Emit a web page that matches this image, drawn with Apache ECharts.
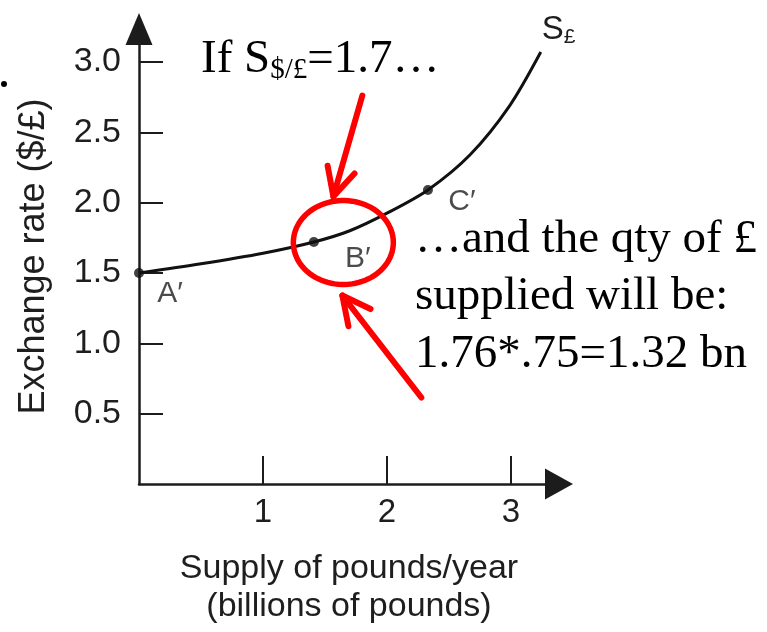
<!DOCTYPE html>
<html>
<head>
<meta charset="utf-8">
<script src="https://cdn.jsdelivr.net/npm/echarts@6/dist/echarts.min.js"></script>
<style>
  html, body { margin: 0; padding: 0; background: #fff; }
  #chart { width: 767px; height: 632px; }
</style>
</head>
<body>
<div id="chart"></div>
<script>
// Supply of pounds: quantity supplied (billions of £ per year) against the $/£ exchange rate
const curveQty  = [0, 0.5, 1.0, 1.41, 1.7, 2.0, 2.33, 2.67, 2.99, 3.24];
const curveRate = [1.5, 1.565, 1.64, 1.72, 1.80, 1.925, 2.09, 2.34, 2.69, 3.07];

// Labelled points on the curve
const pointNames = ['A′', 'B′', 'C′'];
const pointQty   = [0, 1.41, 2.33];
const pointRate  = [1.5, 1.72, 2.09];

// Axis ticks
const xTicks = [1, 2, 3];
const yTicks = [0.5, 1.0, 1.5, 2.0, 2.5, 3.0];

// Text
const xAxisName = 'Supply of pounds/year\n(billions of pounds)';
const yAxisName = 'Exchange rate ($/£)';
const curveLabel = ['S', '£'];
const rateNote = ['If S', '$/£', '=1.7…'];
const qtyNote = ['…and the qty of £', 'supplied will be:', '1.76*.75=1.32 bn'];

// ---- styling ----
const SANS = '"Liberation Sans", Arial, Helvetica, sans-serif';
const SERIF = '"Liberation Serif", "Times New Roman", Times, serif';
const INK = '#1c1c1c';
const LABEL_INK = '#1e1e1e';
const RED = '#ff0000';
const pointLabelOffsets = [[31, 21], [44, 17], [34, 12]];

const chart = echarts.init(document.getElementById('chart'), null, { renderer: 'canvas' });

const axisCommon = {
  type: 'value',
  min: 0,
  nameLocation: 'middle',
  nameTextStyle: { fontFamily: SANS, fontSize: 34, color: LABEL_INK },
  axisLine: { show: true, onZero: false, symbol: ['none', 'triangle'], lineStyle: { color: INK, width: 2.5 } },
  splitLine: { show: false }
};

chart.setOption({
  animation: false,
  backgroundColor: '#fff',
  grid: { left: 139, right: 208, top: 29, bottom: 148 },
  xAxis: Object.assign({}, axisCommon, {
    max: 3.387,
    interval: 1,
    name: xAxisName,
    nameGap: 66,
    nameTextStyle: { fontFamily: SANS, fontSize: 34, color: LABEL_INK, lineHeight: 38 },
    axisLine: Object.assign({}, axisCommon.axisLine, { symbolSize: [31, 28] }),
    axisTick: { show: true, inside: true, length: 28, customValues: xTicks, lineStyle: { color: INK, width: 2 } },
    axisLabel: { customValues: xTicks, margin: 12, fontFamily: SANS, fontSize: 33, color: LABEL_INK }
  }),
  yAxis: Object.assign({}, axisCommon, {
    max: 3.234,
    interval: 0.5,
    name: yAxisName,
    nameGap: 87,
    nameTextStyle: { fontFamily: SANS, fontSize: 36, color: LABEL_INK },
    axisLine: Object.assign({}, axisCommon.axisLine, { symbolSize: [27, 32] }),
    axisTick: { show: true, inside: true, length: 24, customValues: yTicks, lineStyle: { color: INK, width: 2 } },
    axisLabel: {
      customValues: yTicks, margin: 18, fontFamily: SANS, fontSize: 34, color: LABEL_INK,
      formatter: v => Number(v).toFixed(1)
    }
  }),
  series: [
    {
      type: 'line',
      data: curveQty.map((q, i) => [q, curveRate[i]]),
      smooth: 0.3,
      showSymbol: false,
      lineStyle: { color: '#111', width: 3 },
      z: 3
    },
    {
      type: 'scatter',
      data: pointQty.map((q, i) => ({
        value: [q, pointRate[i]],
        name: pointNames[i],
        label: { offset: pointLabelOffsets[i] }
      })),
      symbol: 'circle',
      symbolSize: 10,
      itemStyle: { color: '#111' },
      label: {
        show: true,
        position: 'inside',
        formatter: p => p.name,
        fontFamily: SANS,
        fontSize: 30,
        color: LABEL_INK
      },
      z: 4
    }
  ]
});

// Annotations placed from the pixel positions of the data they point at
const bPx = chart.convertToPixel({ seriesIndex: 1 }, [pointQty[1], pointRate[1]]);
const endPx = chart.convertToPixel({ seriesIndex: 0 }, [curveQty[curveQty.length - 1], curveRate[curveRate.length - 1]]);

function ringPoints(cx, cy, rx, ry, n) {
  const pts = [];
  for (let k = 0; k < n; k++) {
    const t = (k / n) * Math.PI * 2;
    pts.push([cx + rx * Math.cos(t), cy + ry * Math.sin(t)]);
  }
  return pts;
}

function arrowShapes(tail, tip, headLen, headHalf) {
  const dx = tip[0] - tail[0], dy = tip[1] - tail[1];
  const len = Math.hypot(dx, dy);
  const ux = dx / len, uy = dy / len;
  const px = -uy, py = ux;
  const bx = tip[0] - headLen * ux, by = tip[1] - headLen * uy;
  const style = { stroke: RED, lineWidth: 6, fill: null, lineCap: 'round', lineJoin: 'round' };
  return [
    { type: 'line', shape: { x1: tail[0], y1: tail[1], x2: tip[0], y2: tip[1] }, style: style, z: 10 },
    { type: 'polyline', shape: { points: [[bx + headHalf * px, by + headHalf * py], tip, [bx - headHalf * px, by - headHalf * py]] }, style: style, z: 10 }
  ];
}

const rel = (dx, dy) => [bPx[0] + dx, bPx[1] + dy];

const graphics = [
  // red ring around B′
  {
    type: 'polygon',
    shape: { points: ringPoints(bPx[0] + 29.5, bPx[1] + 0.5, 50, 42, 90) },
    style: { stroke: RED, lineWidth: 5.5, fill: null },
    z: 10
  },
  ...arrowShapes(rel(48.5, -146.5), rel(19.5, -45.5), 28, 14),
  ...arrowShapes(rel(107.5, 155.5), rel(28.5, 53.5), 28, 14),
  // curve name S£
  {
    type: 'text',
    x: endPx[0] + 1,
    y: endPx[1] - 22,
    style: {
      text: '{m|' + curveLabel[0] + '}{s|' + curveLabel[1] + '}',
      verticalAlign: 'middle',
      rich: {
        m: { fontFamily: SANS, fontSize: 33, lineHeight: 36, fill: LABEL_INK },
        s: { fontFamily: SANS, fontSize: 21, lineHeight: 20, verticalAlign: 'bottom', fill: LABEL_INK }
      }
    },
    z: 5
  },
  // exchange-rate note
  {
    type: 'text',
    x: 201,
    y: 35,
    style: {
      text: '{m|' + rateNote[0] + '}{s|' + rateNote[1] + '}{m|' + rateNote[2] + '}',
      verticalAlign: 'top',
      rich: {
        m: { fontFamily: SERIF, fontSize: 47, lineHeight: 50, fill: '#000' },
        s: { fontFamily: SERIF, fontSize: 29, lineHeight: 24, verticalAlign: 'bottom', fill: '#000' }
      }
    },
    z: 5
  },
  // small bullet at the left margin
  { type: 'circle', shape: { cx: 4, cy: 84, r: 3 }, style: { fill: '#000' } }
];

const noteBaselines = [255, 312, 370];
qtyNote.forEach((line, i) => {
  graphics.push({
    type: 'text',
    x: 415,
    y: noteBaselines[i] - 15,
    style: { text: line, fontFamily: SERIF, fontSize: 47, fill: '#000', verticalAlign: 'middle' },
    z: 5
  });
});

chart.setOption({ graphic: graphics });
</script>
</body>
</html>
